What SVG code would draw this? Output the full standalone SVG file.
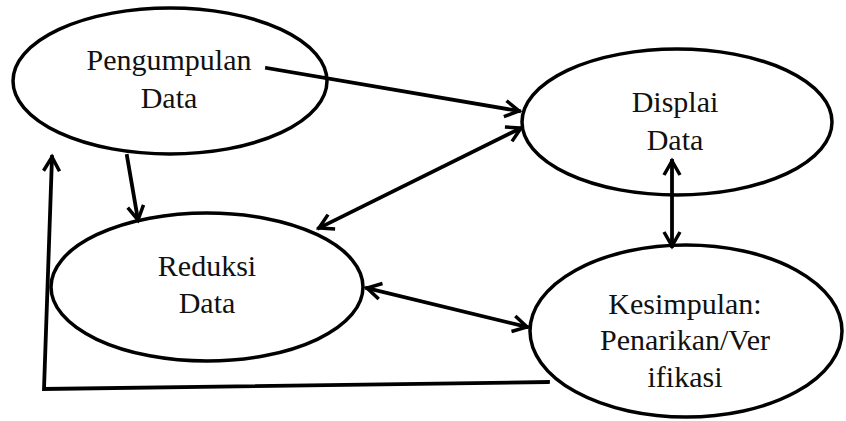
<svg xmlns="http://www.w3.org/2000/svg" width="846" height="421" viewBox="0 0 846 421">
<style>
.node ellipse{fill:#fff;stroke:#000;stroke-width:3.5}
.conn{fill:none;stroke:#000;stroke-width:3.8;stroke-linecap:square}
</style>
<defs>
<marker id="ah" viewBox="0 0 18 20" refX="16" refY="10" markerWidth="18" markerHeight="20" markerUnits="userSpaceOnUse" orient="auto-start-reverse" overflow="visible">
<path d="M2,2 L16,10 L2,18" fill="none" stroke="#000" stroke-width="3.5"/>
</marker>
</defs>
<rect width="846" height="421" fill="#fff"/>
<g font-family="'Liberation Serif', 'Times New Roman', 'DejaVu Serif', serif" font-size="30" fill="#111" text-anchor="middle">
<g id="pengumpulan" class="node">
<ellipse cx="170" cy="81" rx="157" ry="73"/>
<text x="169" y="70">Pengumpulan</text>
<text x="169" y="108">Data</text>
</g>
<g id="displai" class="node">
<ellipse cx="677" cy="122" rx="155" ry="73"/>
<text x="675" y="112">Displai</text>
<text x="675" y="150">Data</text>
</g>
<g id="reduksi" class="node">
<ellipse cx="207" cy="287" rx="156" ry="74"/>
<text x="207" y="276">Reduksi</text>
<text x="207" y="313">Data</text>
</g>
<g id="kesimpulan" class="node">
<ellipse cx="686" cy="331" rx="156" ry="86"/>
<text x="685" y="314">Kesimpulan:</text>
<text x="685" y="350">Penarikan/Ver</text>
<text x="685" y="387">ifikasi</text>
</g>
</g>
<g id="connectors">
<line class="conn" x1="267" y1="68" x2="519" y2="111" marker-end="url(#ah)"/>
<line class="conn" x1="127" y1="156" x2="138" y2="220" marker-end="url(#ah)"/>
<line class="conn" x1="521" y1="128" x2="319" y2="228" marker-start="url(#ah)" marker-end="url(#ah)"/>
<line class="conn" x1="672" y1="161" x2="672" y2="246" marker-start="url(#ah)" marker-end="url(#ah)"/>
<line class="conn" x1="367" y1="288" x2="527" y2="327" marker-start="url(#ah)" marker-end="url(#ah)"/>
<polyline class="conn" points="548,382 44,389 52,157" stroke-linejoin="miter" marker-end="url(#ah)"/>
</g>
</svg>
